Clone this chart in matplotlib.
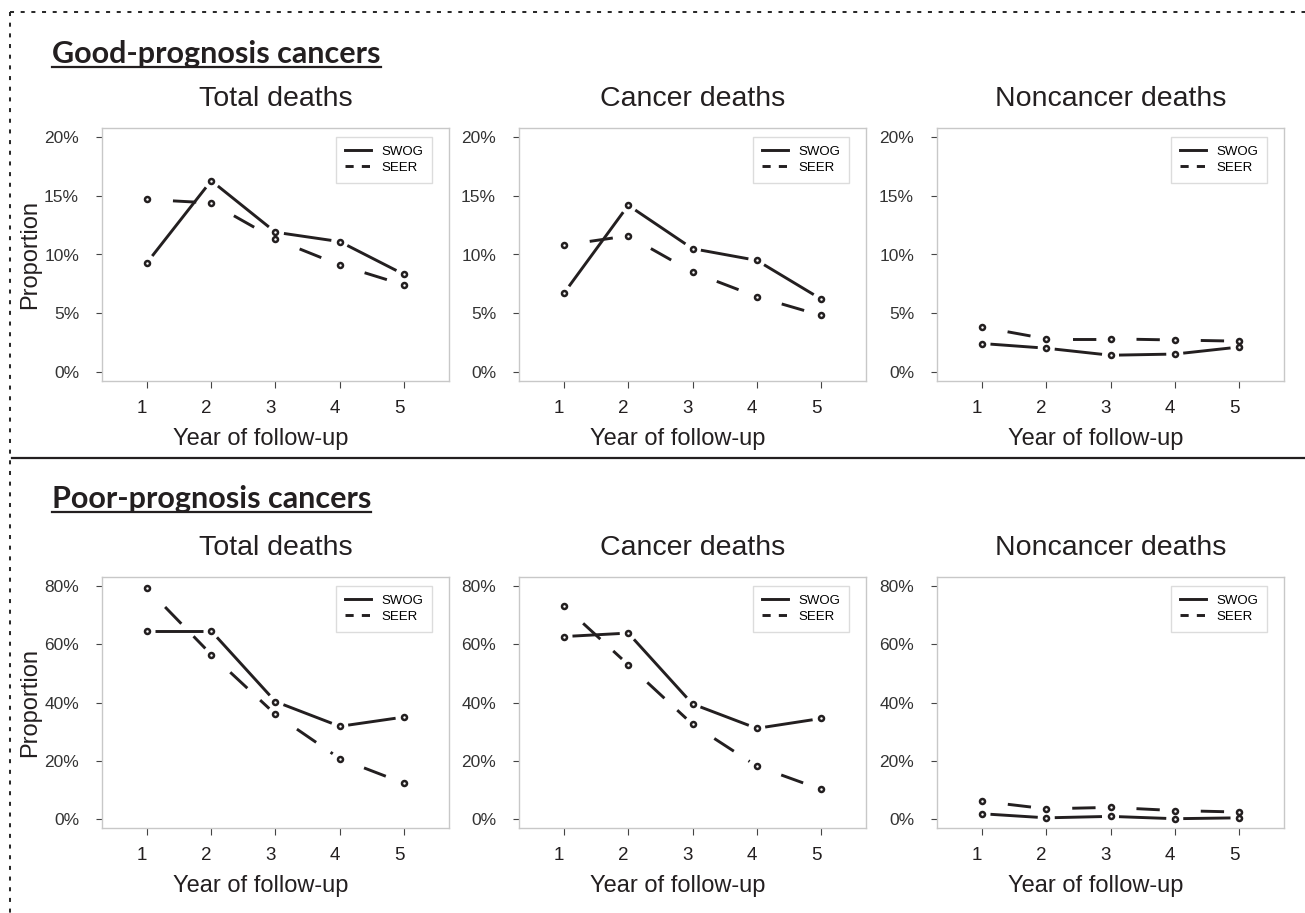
#Mortalidad por año de seguimiento: SWOG frente a SEER
import numpy as np
import matplotlib
matplotlib.use('Agg')
import matplotlib.pyplot as plt
from matplotlib.lines import Line2D
from matplotlib.transforms import ScaledTranslation

plt.rcParams['font.family'] = ['Liberation Sans', 'DejaVu Sans']

anios = [1, 2, 3, 4, 5]
paneles = ['Total deaths', 'Cancer deaths', 'Noncancer deaths']
grupos = ['Good-prognosis cancers', 'Poor-prognosis cancers']
series = ['SWOG', 'SEER']

#Proporciones (%) - cánceres de buen pronóstico
buena_total_swog = [9.3, 16.3, 11.9, 11.1, 8.3]
buena_total_seer = [14.7, 14.4, 11.3, 9.1, 7.4]
buena_cancer_swog = [6.7, 14.2, 10.5, 9.5, 6.2]
buena_cancer_seer = [10.8, 11.6, 8.5, 6.4, 4.8]
buena_nocancer_swog = [2.4, 2.0, 1.4, 1.5, 2.1]
buena_nocancer_seer = [3.8, 2.8, 2.8, 2.7, 2.6]

#Proporciones (%) - cánceres de mal pronóstico
mala_total_swog = [64.6, 64.6, 40.3, 31.8, 35.0]
mala_total_seer = [79.3, 56.5, 35.9, 20.7, 12.2]
mala_cancer_swog = [62.7, 63.9, 39.5, 31.1, 34.5]
mala_cancer_seer = [73.3, 53.0, 32.5, 18.1, 10.1]
mala_nocancer_swog = [1.7, 0.3, 0.8, 0.0, 0.3]
mala_nocancer_seer = [6.0, 3.4, 3.9, 2.8, 2.3]

yticks_buena = [0, 5, 10, 15, 20]
yticks_mala = [0, 20, 40, 60, 80]

datos = [
    [(buena_total_swog, buena_total_seer), (buena_cancer_swog, buena_cancer_seer), (buena_nocancer_swog, buena_nocancer_seer)],
    [(mala_total_swog, mala_total_seer), (mala_cancer_swog, mala_cancer_seer), (mala_nocancer_swog, mala_nocancer_seer)],
]
yticks = [yticks_buena, yticks_mala]

negro = '#231f20'
gris = '#c8c8c8'
lw = 2.1
hueco = 8.5  #px alrededor de cada punto (como type='b' de R)
discont = (8, (8, 6))

W, H = 1305, 913
fig = plt.figure(figsize=(W/100, H/100), dpi=100)

izq = [102, 519, 937]
ancho = 347
filas = [(128, 381), (577, 828)]


def tramos(ax, x, y, **kw):
    #Dibuja la línea con huecos alrededor de los puntos
    pts = ax.transData.transform(np.column_stack([x, y]))
    inv = ax.transData.inverted()
    for i in range(len(pts) - 1):
        d = pts[i+1] - pts[i]
        L = np.hypot(*d)
        if L <= 2*hueco:
            continue
        u = d / L
        a = inv.transform(pts[i] + u*hueco)
        b = inv.transform(pts[i+1] - u*hueco)
        ax.plot([a[0], b[0]], [a[1], b[1]], color=negro, lw=lw, solid_capstyle='butt', **kw)


for f in range(2):
    top, bot = filas[f]
    yt = yticks[f]
    ymarg = (yt[-1] - yt[0]) * 0.04
    for p in range(3):
        ax = fig.add_axes([izq[p]/W, 1 - bot/H, ancho/W, (bot - top)/H])
        ax.set_xlim(0.3, 5.7)
        ax.set_ylim(yt[0] - ymarg, yt[-1] + ymarg)
        swog, seer = datos[f][p]

        tramos(ax, anios, swog, linestyle='-')
        tramos(ax, anios, seer, linestyle=discont)
        for v in (swog, seer):
            ax.plot(anios, v, 'o', ms=3.6, mfc='white', mec=negro, mew=1.8, zorder=5)

        for s in ax.spines.values():
            s.set_color(gris)
            s.set_linewidth(1)
        ax.set_xticks(anios)
        ax.set_yticks(yt)
        ax.set_yticklabels(['%d%%' % v for v in yt])
        ax.tick_params(axis='y', length=4.5, width=0.8, color='#444444', pad=12, labelsize=12.5, labelcolor='#333333')
        ax.tick_params(axis='x', length=5, width=0.8, color='#444444', pad=8.5, labelsize=13.5, labelcolor=negro)
        for t in ax.get_xticklabels():
            t.set_transform(t.get_transform() + ScaledTranslation(-5/100, 0, fig.dpi_scale_trans))

        ax.set_title(paneles[p], fontsize=20.5, pad=15.5, color=negro)
        ax.set_xlabel('Year of follow-up', fontsize=17, color=negro)
        ax.xaxis.set_label_coords(0.458, -0.186)
        if p == 0:
            ax.set_ylabel('Proportion', fontsize=17, color=negro)
            ax.yaxis.set_label_coords(-0.175, 0.5)

        #Leyenda con guiones más cortos que en el gráfico
        h = [Line2D([], [], color=negro, lw=lw, linestyle='-'),
             Line2D([], [], color=negro, lw=lw, linestyle=(0, (2.8, 2.8)))]
        leg = ax.legend(h, series, loc='upper right', bbox_to_anchor=(1 - 17/ancho, 1 - 9/(bot - top)),
                        borderaxespad=0, fontsize=9.5, handlelength=2.0, handletextpad=0.8,
                        borderpad=0.65, labelspacing=0.3, fancybox=False, framealpha=1)
        leg.get_frame().set_edgecolor('#dcdcdc')
        leg.get_frame().set_linewidth(1)

#Títulos de sección subrayados
cab = []
for base in (63, 508):
    cab.append(fig.text(52/W, 1 - base/H, grupos[len(cab)], fontsize=22, fontweight='bold',
                        family=['Lato', 'DejaVu Sans'], color=negro, va='baseline'))
fig.canvas.draw()
inv = fig.transFigure.inverted()
for t, base in zip(cab, (63, 508)):
    bb = t.get_window_extent()
    x0 = inv.transform((bb.x0, 0))[0]
    x1 = inv.transform((bb.x1, 0))[0]
    yl = 1 - (base + 4)/H
    fig.add_artist(Line2D([x0, x1], [yl, yl], color=negro, lw=1.6))

#Marco punteado y separador
punteado = (0, (2.0, 3.3))
fig.add_artist(Line2D([10/W, 1], [1 - 12.5/H]*2, color='#2a2a2a', lw=1.45, linestyle=punteado))
fig.add_artist(Line2D([10/W]*2, [1 - 12.5/H, 0], color='#2a2a2a', lw=1.45, linestyle=punteado))
fig.add_artist(Line2D([12/W, 1], [1 - 458/H]*2, color=negro, lw=1.6))

plt.savefig('out.png', dpi=100)
